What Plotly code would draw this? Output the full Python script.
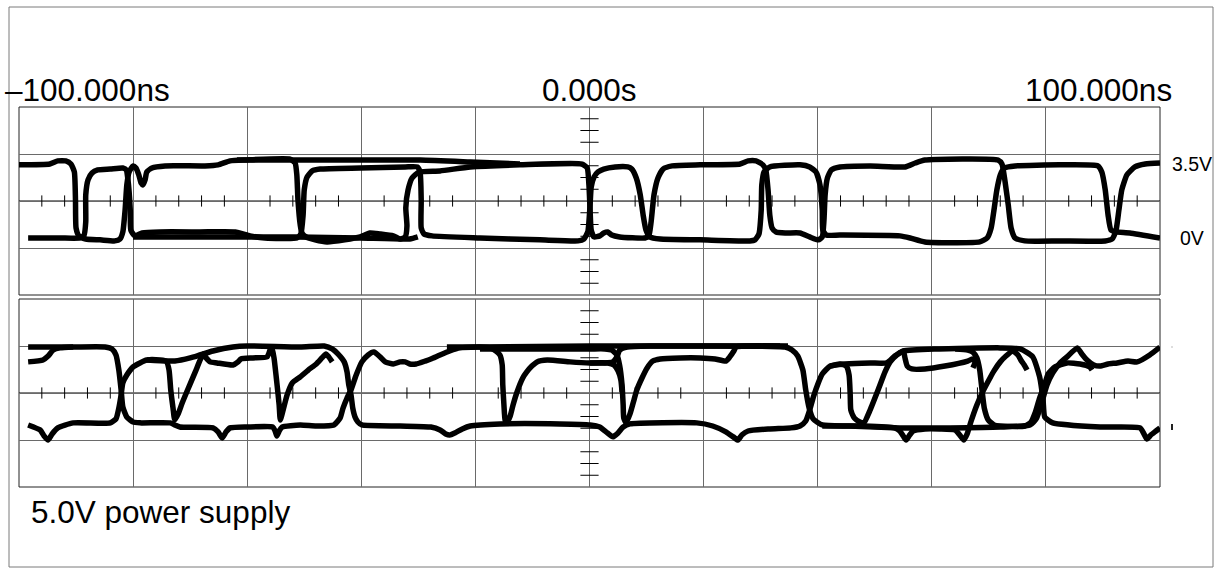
import plotly.graph_objects as go

# ---------------- axis settings (time in ns, volts) ----------------
T_RANGE = [-100, 100]
V_RANGE = [-2.75, 6.25]
V_DIV = 2.25
V_CENTER = 1.75

# ---------------- channel 1 (upper panel) ----------------
ch1_a_t = [-100, -94.6, -93.2, -91.8, -90.9, -90.3, -90.1, -90.0, -89.5, -88.3,
           -85.8, -83.2, -82.3, -81.8, -81.4, -81.1, -80.7, -80.0, -79.5, -79.0,
           -78.6, -78.3, -77.9, -77.6, -76.7, -74.4, -67.4, -65.1, -63.0, -60.4,
           -52.5, -51.6, -51.3, -51.1, -50.7, -50.4, -49.7, -48.1, -46.0, -42.9,
           -40.2, -38.5, -36.7, -34.4, -33.2, -32.3, -32.0, -32.2, -31.8, -31.1,
           -29.9, -26.2, -20.9, -12.2, -1.3, -0.4, -0.1, 0.1, 0.3, 0.8,
           1.8, 2.5, 3.2, 3.9, 5.3, 9.7, 10.4, 10.8, 11.3, 12.0,
           12.9, 14.5, 19.4, 26.4, 27.8, 29.2, 30.4, 30.9, 31.3, 31.6,
           32.0, 32.7, 34.3, 36.9, 38.6, 40.1, 40.8, 41.1, 41.3, 41.7,
           42.4, 43.9, 49.2, 55.3, 57.1, 58.8, 71.6, 72.3, 72.8, 73.4,
           73.9, 74.6, 76.3, 82.5, 90.4, 91.6, 92.3, 92.8, 93.3, 94.2,
           95.6, 97.4, 100.0]
ch1_a_v = [3.48, 3.52, 3.67, 3.67, 3.52, 3.14, 1.80, 0.46, 0.08, -0.07,
           -0.11, -0.16, -0.07, 0.27, 1.32, 2.52, 3.14, 3.43, 3.33, 3.00,
           2.61, 2.52, 2.76, 3.14, 3.33, 3.43, 3.43, 3.48, 3.67, 3.71,
           3.76, 3.57, 3.00, 1.80, 0.60, 0.22, 0.03, -0.11, -0.21, -0.11,
           0.03, 0.22, 0.17, 0.08, -0.07, 0.03, 0.56, 1.42, 2.28, 2.85,
           3.14, 3.19, 3.38, 3.48, 3.52, 3.33, 2.52, 1.32, 0.36, 0.03,
           0.08, 0.22, 0.27, 0.12, 0.03, -0.02, 0.08, 0.75, 2.04, 2.85,
           3.28, 3.43, 3.48, 3.52, 3.67, 3.67, 3.48, 3.24, 2.28, 1.08,
           0.46, 0.27, 0.22, 0.22, 0.03, -0.11, 0.03, 0.84, 2.04, 2.85,
           3.24, 3.38, 3.43, 3.38, 3.57, 3.71, 3.71, 3.52, 2.76, 1.56,
           0.46, -0.02, -0.16, -0.16, -0.16, -0.07, 0.36, 1.32, 2.28, 3.00,
           3.38, 3.52, 3.57]

ch1_b_t = [-98.4, -92.8, -89.3, -88.6, -88.3, -88.3, -87.9, -87.2, -86.2, -84.0,
           -81.8, -81.2, -80.9, -80.5, -80.4, -79.7, -78.4, -75.3, -68.3, -62.1,
           -59.5, -56.9, -51.3, -50.6, -50.2, -50.0, -49.5, -48.6, -47.2, -40.2,
           -32.3, -30.2, -29.7, -29.5, -29.5, -29.0, -27.6, -19.2, -8.7, -2.0,
           -1.0, -0.3, 0.1, 0.3, 0.8, 1.5, 2.5, 4.5, 6.7, 7.4,
           8.2, 8.9, 9.4, 9.9, 10.6, 12.4, 19.4, 28.1, 29.0, 29.7,
           30.1, 30.2, 30.6, 31.6, 36.9, 38.6, 39.7, 40.4, 40.8, 40.9,
           41.5, 43.9, 54.4, 56.2, 58.8, 68.4, 69.7, 70.4, 70.9, 71.4,
           72.0, 72.7, 74.6, 82.5, 89.1, 89.8, 90.4, 90.9, 91.4, 92.3,
           94.7, 100.0]
ch1_b_v = [-0.02, -0.02, -0.02, 0.12, 0.75, 2.04, 2.76, 3.09, 3.24, 3.28,
           3.33, 3.24, 2.76, 1.32, 0.36, 0.08, 0.22, 0.27, 0.27, 0.27,
           0.08, -0.02, -0.02, 0.17, 1.08, 2.28, 2.90, 3.19, 3.28, 3.33,
           3.38, 3.38, 3.14, 1.80, 0.46, 0.17, 0.08, -0.02, -0.11, -0.16,
           -0.07, 0.27, 1.56, 2.42, 2.90, 3.14, 3.28, 3.38, 3.38, 3.28,
           2.85, 2.04, 1.08, 0.36, 0.03, -0.07, -0.11, -0.16, -0.11, 0.17,
           1.32, 2.52, 3.14, 3.38, 3.48, 3.38, 3.14, 2.52, 1.32, 0.36,
           0.12, 0.12, 0.08, -0.02, -0.21, -0.21, -0.02, 0.46, 1.32, 2.28,
           3.00, 3.33, 3.43, 3.48, 3.43, 3.14, 2.28, 1.08, 0.36, 0.27,
           0.22, -0.02]

ch1_c_t = [-61.8, -50.7, -29.7, -20.9, -12.2]
ch1_c_v = [3.71, 3.71, 3.71, 3.62, 3.52]

ch1_d_t = [-80.0, -68.3, -51.3, -40.2, -31.5, -30.1]
ch1_d_v = [0.03, 0.03, 0.03, -0.02, -0.07, 0.03]

# ---------------- channel 2 (lower panel) ----------------
ch2_a_t = [-98.4, -90.5, -84.9, -83.7, -83.0, -82.5, -82.1, -81.8, -81.1, -80.0,
           -78.8, -73.5, -72.7, -71.8, -66.0, -65.1, -64.4, -63.7, -63.0, -60.0,
           -55.5, -55.1, -54.8, -54.4, -53.9, -50.7, -47.9, -44.8, -43.7, -43.2,
           -42.5, -41.8, -40.9, -39.9, -38.8, -37.8, -36.7, -35.8, -34.4, -33.2,
           -32.3, -31.5, -30.4, -28.8, -27.8, -26.2, -24.5, -22.7, -19.2, 0.1,
           19.4, 34.3, 35.5, 36.5, 37.4, 37.9, 38.5, 39.2, 40.8, 45.5,
           54.4, 63.2, 72.0, 77.2, 78.3, 79.3, 80.2, 81.2, 82.5, 83.7,
           85.5, 86.3, 87.2, 88.4, 89.5, 90.9, 92.5, 94.4, 96.0, 98.2,
           100.0]
ch2_a_v = [3.95, 3.95, 3.95, 3.86, 3.57, 2.85, 1.90, 1.08, 0.60, 0.36,
           0.32, 0.32, 0.22, 0.12, 0.08, -0.11, -0.40, -0.11, 0.08, 0.12,
           0.12, -0.07, -0.31, -0.07, 0.12, 0.22, 0.17, 0.22, 0.56, 1.03,
           1.51, 1.90, 2.61, 3.24, 3.57, 3.71, 3.48, 3.24, 3.14, 3.24,
           3.24, 3.14, 3.14, 3.28, 3.38, 3.57, 3.76, 3.91, 3.95, 4.00,
           4.00, 3.95, 3.81, 3.52, 2.85, 1.90, 1.03, 0.51, 0.22, 0.17,
           0.08, 0.08, 0.12, 0.22, 0.51, 1.32, 2.14, 2.71, 3.19, 3.48,
           3.91, 3.62, 3.33, 3.09, 3.04, 3.14, 3.19, 3.28, 3.24, 3.57,
           3.95]

ch2_b_t = [-98.4, -95.8, -94.9, -94.0, -92.8, -90.5]
ch2_b_v = [3.24, 3.33, 3.52, 3.81, 3.91, 3.95]

ch2_c_t = [-98.4, -96.3, -95.6, -94.9, -94.2, -93.2, -90.5, -84.0, -83.0, -82.5,
           -82.1, -81.8, -81.1, -80.0, -78.8, -77.6, -75.3, -74.2, -73.7, -73.4,
           -73.0, -72.7, -72.1, -71.4, -70.6, -69.1, -67.7, -67.2, -66.5, -65.3,
           -62.5, -61.6, -61.1, -59.0, -56.5, -56.0, -55.7, -55.3, -54.8, -54.4,
           -54.2, -53.7, -53.0, -52.1, -50.7, -49.3, -47.9, -46.9, -46.2, -45.7,
           -45.1]
ch2_c_v = [0.22, -0.02, -0.31, -0.50, -0.21, 0.08, 0.32, 0.32, 0.51, 1.03,
           1.66, 2.23, 2.61, 3.00, 3.19, 3.33, 3.33, 3.28, 2.85, 1.90,
           1.03, 0.46, 0.75, 1.27, 1.80, 2.76, 3.62, 3.43, 3.24, 3.19,
           3.09, 3.24, 3.38, 3.43, 3.48, 3.81, 3.95, 3.43, 2.23, 1.18,
           0.46, 0.94, 1.66, 2.23, 2.52, 2.85, 3.14, 3.43, 3.62, 3.48,
           3.24]

ch2_d_t = [-77.6, -74.1, -72.7, -70.0, -68.3, -66.0, -62.5, -60.0, -50.7, -46.5,
           -45.1, -44.1, -43.0, -42.5, -42.2, -41.8, -41.5, -41.1, -40.6, -39.9,
           -33.2, -27.8, -26.2, -25.2, -24.5, -23.6, -22.3, -20.9, -15.7, -5.2,
           0.1, 1.8, 2.9, 4.1, 5.0, 5.9, 7.1, 18.8, 21.6, 23.9,
           25.2, 26.0, 26.7, 27.8, 31.6, 35.3, 36.9, 37.9, 38.6, 39.3,
           40.1, 40.8, 42.2, 44.8, 49.2, 52.1, 53.5, 55.0, 60.9, 72.0,
           75.5, 77.7, 78.9, 79.5, 79.8, 81.2, 89.5, 96.5, 97.2, 97.7,
           98.4, 99.3, 100.0]
ch2_d_v = [3.33, 3.28, 3.28, 3.43, 3.57, 3.76, 3.95, 4.00, 3.95, 4.00,
           3.86, 3.62, 3.24, 2.76, 2.14, 1.66, 1.03, 0.60, 0.36, 0.22,
           0.17, 0.12, -0.02, -0.21, -0.26, -0.16, 0.03, 0.17, 0.27, 0.27,
           0.22, 0.12, -0.11, -0.35, -0.16, 0.12, 0.27, 0.32, 0.17, -0.11,
           -0.35, -0.50, -0.26, -0.07, 0.03, 0.08, 0.17, 0.41, 0.94, 1.61,
           2.23, 2.66, 3.04, 3.14, 3.19, 3.19, 3.52, 3.76, 3.86, 3.91,
           3.86, 3.48, 2.52, 1.42, 0.60, 0.32, 0.12, 0.08, -0.21, -0.45,
           -0.26, -0.07, 0.08]

ch2_e_t = [42.2, 43.9, 45.0, 45.5, 45.7, 45.8, 46.4, 47.4, 48.1, 49.2,
           50.6, 51.8, 52.7, 53.9, 55.0, 55.3, 55.7, 56.5, 58.8, 62.3,
           66.3, 67.2, 67.6, 67.2]
ch2_e_v = [3.04, 3.14, 3.04, 2.61, 1.66, 0.94, 0.56, 0.36, 0.32, 0.94,
           1.90, 2.76, 3.24, 3.57, 3.76, 3.43, 3.04, 2.90, 2.90, 3.04,
           3.28, 3.38, 3.24, 2.95]

ch2_f_t = [-25.0, -19.2, -17.4, -16.4, -15.7, -15.3, -15.2, -15.0, -14.8, -14.5,
           -13.9, -13.4, -12.7, -11.7, -11.0, -10.1, -9.2, -7.4, -3.4, 0.1,
           2.7, 4.1, 4.8, 5.3, 6.6, 10.6, 22.9, 33.4]
ch2_f_v = [3.95, 3.95, 3.91, 3.76, 3.57, 3.09, 2.14, 1.18, 0.46, 0.32,
           0.65, 1.18, 1.80, 2.47, 2.76, 3.04, 3.24, 3.33, 3.24, 3.19,
           3.19, 3.24, 3.48, 3.81, 3.95, 4.00, 4.00, 4.00]

ch2_g_t = [-19.2, 0.1, 2.7, 3.9, 4.8, 5.3, 5.7, 5.9, 6.0, 6.4,
           7.1, 7.8, 8.3, 9.2, 10.1, 11.1, 12.4, 15.9, 19.4, 22.0,
           23.9, 24.6, 25.3, 25.7, 27.3, 34.8]
ch2_g_v = [3.86, 3.86, 3.86, 3.81, 3.57, 3.04, 2.14, 1.18, 0.56, 0.32,
           0.75, 1.42, 1.90, 2.47, 2.95, 3.28, 3.38, 3.43, 3.43, 3.38,
           3.28, 3.48, 3.76, 3.95, 4.00, 4.00]

ch2_h_t = [0.1, 3.2, 4.3, 5.0, 5.5, 5.7]
ch2_h_v = [3.19, 3.19, 3.09, 2.81, 2.37, 1.80]

ch2_i_t = [40.8, 48.1, 53.5, 54.4, 55.0, 55.5, 56.0, 56.7, 58.8, 61.4,
           64.1, 64.9, 65.6, 66.2, 66.9, 67.9, 69.0, 70.2, 70.9, 72.0,
           73.0, 74.2, 75.1, 75.6, 76.2, 76.7]
ch2_i_v = [0.17, 0.17, 0.08, -0.07, -0.31, -0.50, -0.31, -0.07, 0.03, 0.03,
           -0.02, -0.26, -0.50, -0.21, 0.41, 1.18, 1.85, 2.47, 2.81, 3.24,
           3.52, 3.76, 3.57, 3.33, 3.09, 2.85]

ch2_j_t = [64.1, 66.3, 67.2, 67.9, 68.4, 68.8, 69.2, 69.9, 70.9, 72.0,
           76.3, 77.4, 78.1, 78.9, 79.7, 80.4, 81.6, 83.7, 86.0, 87.7,
           88.1]
ch2_j_v = [3.86, 3.81, 3.71, 3.43, 2.85, 1.90, 1.03, 0.46, 0.22, 0.17,
           0.17, 0.36, 0.79, 1.51, 2.09, 2.66, 3.00, 3.19, 3.14, 3.00,
           2.85]

# ---------------- labels ----------------
time_labels = ["\u2013100.000ns", "0.000s", "100.000ns"]
level_labels = ["3.5V", "0V"]
level_values = [3.5, 0.0]
caption = "5.0V power supply"

# ---------------- figure ----------------
W, H = 1223, 577
ML, MR, MT, MB = 19, 63, 107, 90
PH = H - MT - MB
split_lo = 188 / PH
split_hi = 192 / PH


def px_x(px):
    return (px - ML) / (W - ML - MR)


def px_y(py):
    return (H - MB - py) / PH


fig = go.Figure()

# graticule minor ticks (derived from the axis divisions)
minor_t = [T_RANGE[0] + k * 4 for k in range(1, 50) if k % 5 != 0]
minor_v = [V_CENTER + k * V_DIV / 4 for k in range(-7, 8) if k % 4 != 0]
for yax in ["y", "y2"]:
    fig.add_trace(go.Scatter(
        x=minor_t, y=[V_CENTER] * len(minor_t), xaxis="x", yaxis=yax,
        mode="markers", hoverinfo="skip", showlegend=False,
        marker=dict(symbol="line-ns", size=8, color="black",
                    line=dict(width=1, color="black"))))
    fig.add_trace(go.Scatter(
        x=[0] * len(minor_v), y=minor_v, xaxis="x", yaxis=yax,
        mode="markers", hoverinfo="skip", showlegend=False,
        marker=dict(symbol="line-ew", size=13, color="black",
                    line=dict(width=1, color="black"))))

wave_line = dict(color="black", width=5.5, shape="spline", smoothing=0.5)
for t, v in [(ch1_a_t, ch1_a_v), (ch1_b_t, ch1_b_v), (ch1_c_t, ch1_c_v),
             (ch1_d_t, ch1_d_v)]:
    fig.add_trace(go.Scatter(x=t, y=v, xaxis="x", yaxis="y2", mode="lines",
                             line=wave_line, hoverinfo="skip", showlegend=False))
for t, v in [(ch2_a_t, ch2_a_v), (ch2_b_t, ch2_b_v), (ch2_c_t, ch2_c_v),
             (ch2_d_t, ch2_d_v), (ch2_e_t, ch2_e_v), (ch2_f_t, ch2_f_v),
             (ch2_g_t, ch2_g_v), (ch2_h_t, ch2_h_v), (ch2_i_t, ch2_i_v),
             (ch2_j_t, ch2_j_v)]:
    fig.add_trace(go.Scatter(x=t, y=v, xaxis="x", yaxis="y", mode="lines",
                             line=wave_line, hoverinfo="skip", showlegend=False))

grid_col = "#6a6a6a"
yax_common = dict(range=V_RANGE, dtick=V_DIV, tick0=V_CENTER, showgrid=True,
                  gridcolor=grid_col, gridwidth=1, zeroline=False,
                  showticklabels=False, ticks="", showline=False, anchor="x",
                  fixedrange=True)

fig.update_layout(
    width=W, height=H, autosize=False,
    margin=dict(l=ML, r=MR, t=MT, b=MB, pad=0),
    paper_bgcolor="white", plot_bgcolor="white",
    showlegend=False,
    font=dict(family="Arial, Liberation Sans, sans-serif", color="black"),
    xaxis=dict(domain=[0, 1], range=T_RANGE, dtick=20, tick0=-100,
               showgrid=True, gridcolor=grid_col, gridwidth=1, zeroline=False,
               showticklabels=False, ticks="", showline=False, anchor="y",
               fixedrange=True),
    yaxis=dict(domain=[0, split_lo], **yax_common),
    yaxis2=dict(domain=[split_hi, 1], **yax_common),
)

shapes = []
# panel borders
for y0, y1 in [(0, split_lo), (split_hi, 1)]:
    shapes.append(dict(type="rect", xref="paper", yref="paper", x0=0, x1=1,
                       y0=y0, y1=y1, line=dict(color="#222", width=1),
                       layer="below"))
    # centre vertical graticule line
    shapes.append(dict(type="line", xref="x", yref="paper", x0=0, x1=0,
                       y0=y0, y1=y1, line=dict(color="black", width=1),
                       layer="below"))
# centre horizontal graticule lines
for yref in ["y", "y2"]:
    shapes.append(dict(type="line", xref="paper", yref=yref, x0=0, x1=1,
                       y0=V_CENTER, y1=V_CENTER,
                       line=dict(color="black", width=1), layer="below"))
# outer frame
shapes.append(dict(type="rect", xref="paper", yref="paper",
                   x0=px_x(9), x1=px_x(1213), y0=px_y(567), y1=px_y(7),
                   line=dict(color="#7a7a7a", width=1), layer="below"))
# faint channel-2 marker remnants at the right edge
shapes.append(dict(type="line", xref="paper", yref="paper",
                   x0=px_x(1172), x1=px_x(1172), y0=px_y(424), y1=px_y(430),
                   line=dict(color="#222", width=2), layer="below"))
shapes.append(dict(type="line", xref="paper", yref="paper",
                   x0=px_x(1172), x1=px_x(1172), y0=px_y(346), y1=px_y(348),
                   line=dict(color="#bbb", width=1), layer="below"))
fig.update_layout(shapes=shapes)

big = dict(size=31.5, family="Arial, Liberation Sans, sans-serif", color="black")
small = dict(size=19.5, family="Arial, Liberation Sans, sans-serif", color="black")
ann = [
    dict(text=time_labels[0], xref="paper", yref="paper", x=px_x(3), y=px_y(89.5),
         xanchor="left", yanchor="middle", showarrow=False, font=big),
    dict(text=time_labels[1], xref="x", yref="paper", x=0, y=px_y(89.5),
         xanchor="center", yanchor="middle", showarrow=False, font=big),
    dict(text=time_labels[2], xref="paper", yref="paper", x=px_x(1174), y=px_y(89.5),
         xanchor="right", yanchor="middle", showarrow=False, font=big),
    dict(text=caption, xref="paper", yref="paper", x=px_x(29), y=px_y(512),
         xanchor="left", yanchor="middle", showarrow=False, font=big),
]
for lab, val in zip(level_labels, level_values):
    ann.append(dict(text=lab, xref="paper", yref="y2", x=px_x(1192), y=val,
                    xanchor="center", yanchor="middle", showarrow=False,
                    font=small))
fig.update_layout(annotations=ann)

fig.write_html("out.html")
